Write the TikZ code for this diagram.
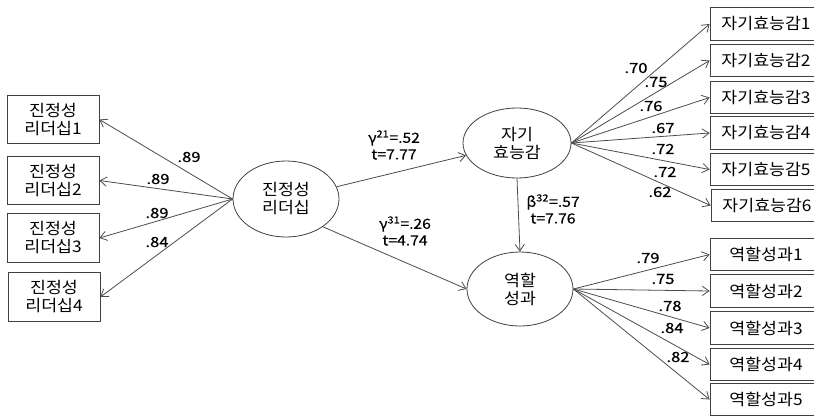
\documentclass[tikz,border=0pt]{standalone}
\usepackage{fontspec}
\setmainfont{Noto Sans CJK KR}[FakeStretch=1.08]
\newfontfamily\numfont{Noto Sans CJK KR}[FakeStretch=1.18, FakeBold=0.7]
\newfontfamily\pathfont{Noto Sans CJK KR}[FakeStretch=1.12, FakeBold=0.3]
\usetikzlibrary{arrows.meta,shapes.geometric}
\begin{document}
\begin{tikzpicture}[x=0.75pt,y=-0.75pt,
  line/.style={draw=black!70, line width=0.6pt},
  arr/.style={line, -{Straight Barb[length=5pt,width=7pt]}},
  lbox/.style={draw=black!75, line width=0.6pt, rectangle, minimum width=69pt, minimum height=36.5pt, inner sep=0pt, align=center, font=\fontsize{12pt}{13.5pt}\selectfont},
  rbox/.style={draw=black!75, line width=0.6pt, rectangle, minimum width=84pt, minimum height=24.5pt, inner sep=0pt, font=\fontsize{12pt}{13.5pt}\selectfont},
  lat/.style={draw=black!75, line width=0.6pt, ellipse, inner sep=0pt, align=center, font=\fontsize{12pt}{13.5pt}\selectfont},
  lab/.style={inner sep=0pt, font=\numfont\fontsize{10.5pt}{12pt}\selectfont},
  plab/.style={inner sep=0pt, align=center, font=\pathfont\fontsize{10.5pt}{12.5pt}\selectfont}
]
\useasboundingbox (0,0) rectangle (814,415);
% latent variables
\node[lat, minimum width=79.5pt, minimum height=57pt] (L) at (286,199) {진정성\\리더십};
\node[lat, minimum width=81pt, minimum height=52.5pt] (S) at (517,143) {자기\\효능감};
\node[lat, minimum width=79.5pt, minimum height=55.5pt] (R) at (520,289) {역할\\성과};
% left indicators
\node[lbox] (a1) at (53,119.5) {진정성\\리더십1};
\node[lbox] (a2) at (53,180.5) {진정성\\리더십2};
\node[lbox] (a3) at (53,238) {진정성\\리더십3};
\node[lbox] (a4) at (54,297) {진정성\\리더십4};
% right indicators (self-efficacy)
\node[rbox] (s1) at (766,24) {자기효능감1};
\node[rbox] (s2) at (766,60.5) {자기효능감2};
\node[rbox] (s3) at (766,97.5) {자기효능감3};
\node[rbox] (s4) at (766,133) {자기효능감4};
\node[rbox] (s5) at (766,169.5) {자기효능감5};
\node[rbox] (s6) at (767,205.5) {자기효능감6};
% right indicators (role performance)
\node[rbox] (r1) at (766,254.5) {역할성과1};
\node[rbox] (r2) at (766,291) {역할성과2};
\node[rbox] (r3) at (766,328) {역할성과3};
\node[rbox] (r4) at (766,364.5) {역할성과4};
\node[rbox] (r5) at (766,399.5) {역할성과5};
% measurement arrows
\foreach \i in {1,...,4} \draw[arr] (L.west) -- (a\i.east);
\foreach \i in {1,...,6} \draw[arr] (S.east) -- (s\i.west);
\foreach \i in {1,...,5} \draw[arr] (R.east) -- (r\i.west);
% structural paths
\draw[arr] (L) -- (S);
\draw[arr] (L.-37) -- (R.west);
\draw[arr] (S.south) -- (R.north);
% loading labels
\node[lab] at (189,157) {.89};
\node[lab] at (158,179) {.89};
\node[lab] at (157,213) {.89};
\node[lab] at (157,242) {.84};
\node[lab] at (636,68) {.70};
\node[lab] at (656,82) {.75};
\node[lab] at (651,106) {.76};
\node[lab] at (663,128) {.67};
\node[lab] at (663,149) {.72};
\node[lab] at (665,172) {.72};
\node[lab] at (660,192) {.62};
\node[lab] at (648,258) {.79};
\node[lab] at (663,279) {.75};
\node[lab] at (670,306) {.78};
\node[lab] at (672,328) {.84};
\node[lab] at (678,357) {.82};
% path labels
\node[plab] at (394,145) {γ\textsuperscript{21}=.52\\t=7.77};
\node[plab] at (405,231) {γ\textsuperscript{31}=.26\\t=4.74};
\node[plab] at (553,209) {β\textsuperscript{32}=.57\\t=7.76};
\end{tikzpicture}
\end{document}
